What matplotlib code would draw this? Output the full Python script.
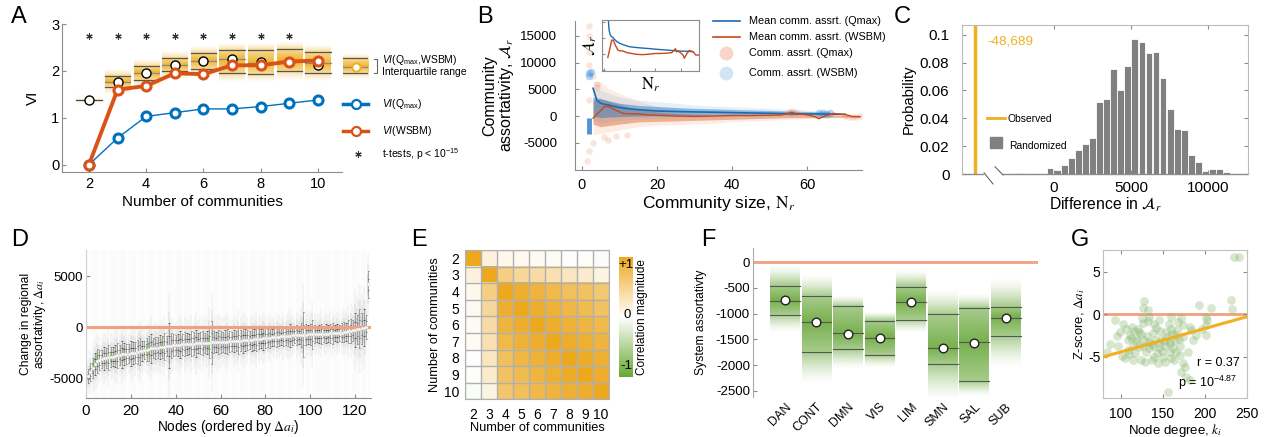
import numpy as np
import matplotlib
matplotlib.use('Agg')
import matplotlib.pyplot as plt
from matplotlib.colors import LinearSegmentedColormap, to_rgb
from matplotlib.lines import Line2D
from matplotlib.patches import Rectangle

plt.rcParams['font.family'] = ['Liberation Sans', 'DejaVu Sans']
plt.rcParams['mathtext.fontset'] = 'custom'
plt.rcParams['mathtext.rm'] = 'Liberation Sans'
plt.rcParams['mathtext.it'] = 'Liberation Sans:italic'
plt.rcParams['mathtext.bf'] = 'Liberation Sans:bold'
plt.rcParams['axes.unicode_minus'] = False
plt.rcParams['xtick.direction'] = 'in'
plt.rcParams['ytick.direction'] = 'in'
plt.rcParams['xtick.major.size'] = 3
plt.rcParams['ytick.major.size'] = 3
plt.rcParams['axes.edgecolor'] = '#8c8c8c'
plt.rcParams['xtick.color'] = '#8c8c8c'
plt.rcParams['ytick.color'] = '#8c8c8c'
plt.rcParams['xtick.labelcolor'] = 'black'
plt.rcParams['ytick.labelcolor'] = 'black'

BLUE = '#0072BD'
ORANGE = '#D95319'
GOLD = '#F0B020'
SALMON = '#F2A07E'
GREEN = '#5FA22E'

# ---------------- data ----------------
# A: variation of information vs number of communities
a_k = [2, 3, 4, 5, 6, 7, 8, 9, 10]
a_vi_qmax = [0.0, 0.57, 1.03, 1.11, 1.19, 1.19, 1.24, 1.31, 1.38]
a_vi_wsbm = [0.0, 1.60, 1.68, 1.95, 1.93, 2.12, 2.12, 2.20, 2.22]
a_vi_pair = [1.38, 1.77, 1.96, 2.12, 2.22, 2.25, 2.20, 2.20, 2.13]
a_q1 = [1.38, 1.66, 1.81, 1.99, 2.04, 1.95, 1.94, 1.99, 1.96]
a_med = [1.38, 1.77, 1.96, 2.12, 2.21, 2.25, 2.17, 2.22, 2.16]
a_q3 = [1.38, 1.89, 2.10, 2.27, 2.38, 2.45, 2.45, 2.47, 2.41]
a_star_k = [2, 3, 4, 5, 6, 7, 8, 9]

# B: community assortativity vs community size
b_mean_n_q = [3, 4, 5, 6, 7, 8, 10, 12, 15, 20, 25, 30, 35, 40, 45, 50, 55, 60, 65, 68, 70]
b_mean_q = [5200, 3000, 2400, 2200, 2100, 1900, 1600, 1400, 1200, 950, 850, 780, 720, 640,
            580, 520, 450, 390, 380, 340, 320]
b_mean_n_w = [3, 4, 5, 6, 7, 8, 9, 10, 11, 12, 15, 18, 20, 25, 30, 35, 40, 45, 50, 53, 55, 56,
              57, 58, 60, 62, 63, 64, 65, 66, 67, 68, 70, 72, 74]
b_mean_w = [-400, 300, 1000, 1750, 1800, 1500, 1100, 800, 500, 450, 400, 200, 150, 0, -50, 0,
            100, 100, 150, 200, 500, 700, 300, 400, 200, -100, -500, -200, 100, 300, 500, 400,
            300, -100, -100]
b_blue_n = [3, 5, 7, 10, 15, 20, 25, 30, 35, 40, 45, 50, 55, 60, 66]
b_blue_hi = [5500, 4900, 4300, 3600, 3000, 2700, 2400, 2100, 1900, 1750, 1600, 1450, 1300, 1100, 900]
b_blue_lo = [-800, -1400, -1100, -750, -550, -440, -350, -250, -180, -120, -60, 0, 80, 190, 300]
b_blue_hi2 = [3500, 3300, 2900, 2400, 2000, 1800, 1600, 1450, 1350, 1250, 1150, 1050, 950, 850, 750]
b_blue_lo2 = [0, -300, -200, -100, 0, 50, 100, 150, 200, 250, 280, 300, 330, 350, 400]
b_orng_n = [3, 5, 7, 10, 15, 20, 25, 30, 35, 40, 45, 50, 55, 60, 65, 70, 74]
b_orng_hi = [6500, 6400, 5200, 4250, 2800, 1750, 1300, 800, 650, 500, 350, 300, 900, 600, 600, 300, 100]
b_orng_lo = [-3500, -3250, -3000, -2600, -2000, -1700, -1600, -1500, -1300, -1060, -900, -750,
             -600, -500, -400, -300, -300]
b_orng_hi2 = [3000, 3200, 2800, 2200, 1200, 800, 500, 350, 250, 200, 150, 150, 700, 300, 300, 100, 0]
b_orng_lo2 = [-1500, -2000, -1800, -1500, -1100, -1000, -900, -800, -700, -600, -500, -400,
              -300, -300, -250, -200, -200]
b_orng_pts_n = [2, 2, 2, 2, 1.5, 2, 3, 4, 4, 6, 7, 9, 12, 2, 3, 55, 56, 57, 56, 71, 72, 73, 74, 70]
b_orng_pts_a = [16800, 15000, 12000, 9500, -8500, -6500, -5000, 6000, 5500, -4000, -4500, -3800,
                -3500, 3000, 7500, 800, 900, 700, 600, -100, -150, -100, -50, 0]
b_blue_pts_n = [2, 2, 2.4, 63, 64, 65, 66]
b_blue_pts_a = [8000, 7500, 8300, 500, 550, 450, 500]
b_strip_n = 2
b_strip_lo, b_strip_hi = -3400, -300

# C: null distribution of difference in assortativity
c_bins = [-2560, -2100, -260, 200, 660, 1120, 1580, 2040, 2500, 2960, 3420, 3880, 4340, 4800,
          5260, 5720, 6180, 6640, 7100, 7560, 8020, 8480, 8940, 9400, 9860, 10320, 10780, 11240]
c_prob = [0.001, 0.001, 0.004, 0.003, 0.0065, 0.0117, 0.0172, 0.0215, 0.0255, 0.0518, 0.0537,
          0.0757, 0.0606, 0.0773, 0.0967, 0.0945, 0.0871, 0.0876, 0.0692, 0.0468, 0.0325,
          0.0313, 0.0136, 0.0084, 0.002, 0.0035, 0.0035, 0.0014]
c_observed = -48689
c_observed_pos = -5150   # drawn left of the axis break

# D: change in regional assortativity per node
d_median = [-4800, -4400, -4000, -3600, -3300, -3200, -3100, -3050, -3000, -2950,
            -2900, -2870, -2800, -2750, -2700, -2650, -2620, -2600, -2580, -2560,
            -2540, -2480, -2400, -2350, -2300, -2250, -2180, -2100, -2060, -2040,
            -2020, -1990, -1950, -1920, -1900, -1860, -1820, -1790, -1760, -1740,
            -1720, -1700, -1680, -1660, -1640, -1620, -1600, -1590, -1570, -1560,
            -1550, -1540, -1520, -1500, -1490, -1470, -1460, -1450, -1440, -1430,
            -1420, -1410, -1400, -1390, -1380, -1360, -1340, -1320, -1300, -1280,
            -1260, -1240, -1220, -1200, -1180, -1160, -1130, -1100, -1080, -1060,
            -1040, -1020, -990, -960, -930, -910, -890, -870, -850, -830,
            -810, -790, -770, -760, -750, -740, -730, -710, -700, -690,
            -680, -670, -660, -650, -640, -630, -620, -610, -600, -590,
            -580, -560, -540, -510, -480, -440, -400, -350, -300, -250,
            -200, -150, -100, -50, 50, 4200]
d_whisk = [700, 900, 1000, 1100, 1200, 1000, 900, 1100, 1000, 1200,
           1000, 900, 1100, 1200, 1000, 1300, 1100, 1000, 900, 1200,
           1100, 1000, 1200, 1300, 1000, 900, 1100, 1200, 1400, 1000,
           1100, 1000, 1200, 1100, 1300, 1000, 2200, 1200, 1100, 1000,
           1100, 1300, 1000, 1200, 1100, 1000, 1200, 1100, 1300, 1000,
           1100, 1200, 1000, 1100, 1500, 2100, 1100, 1000, 1200, 1100,
           1000, 1100, 1200, 1000, 900, 1100, 1000, 1300, 1000, 1200,
           1100, 1000, 900, 1100, 1000, 1200, 1000, 900, 1100, 1000,
           900, 1000, 800, 900, 1000, 900, 800, 1000, 900, 1000,
           1100, 900, 800, 1000, 900, 1200, 2200, 1000, 900, 1000,
           1400, 900, 800, 900, 1000, 800, 900, 800, 900, 1000,
           800, 900, 800, 900, 1000, 900, 1100, 1200, 1000, 1700,
           1400, 1900, 1500, 1800, 1200, 1300]
d_green = [3, 4, 5, 11, 17, 27, 28, 34, 55, 79]

# E: correlation between partitions
e_k = [2, 3, 4, 5, 6, 7, 8, 9, 10]
e_corr = [
    [1.00, 0.15, 0.08, 0.06, 0.05, 0.04, 0.01, 0.02, -0.03],
    [0.15, 1.00, 0.55, 0.45, 0.40, 0.35, 0.28, 0.22, 0.12],
    [0.08, 0.55, 1.00, 0.92, 0.85, 0.80, 0.72, 0.70, 0.62],
    [0.06, 0.45, 0.92, 1.00, 0.93, 0.88, 0.82, 0.78, 0.70],
    [0.05, 0.40, 0.85, 0.93, 1.00, 0.93, 0.88, 0.84, 0.80],
    [0.04, 0.35, 0.80, 0.88, 0.93, 1.00, 0.94, 0.90, 0.85],
    [0.01, 0.28, 0.72, 0.82, 0.88, 0.94, 1.00, 0.95, 0.90],
    [0.02, 0.22, 0.70, 0.78, 0.84, 0.90, 0.95, 1.00, 0.93],
    [-0.03, 0.12, 0.65, 0.72, 0.80, 0.85, 0.90, 0.93, 1.00],
]

# F: system assortativity
f_names = ['DAN', 'CONT', 'DMN', 'VIS', 'LIM', 'SMN', 'SAL', 'SUB']
f_top = [-50, -214, -636, -960, -150, -506, -600, -310]
f_q3 = [-454, -662, -850, -1136, -474, -1012, -883, -870]
f_med = [-753, -1155, -1382, -1467, -766, -1661, -1551, -1077]
f_q1 = [-1019, -1752, -1694, -1811, -1116, -1986, -2310, -1441]
f_bot = [-1380, -2390, -2096, -2064, -1380, -2713, -2615, -2064]
f_mean = [-740, -1162, -1389, -1467, -766, -1661, -1565, -1090]

# G: z-score vs node degree
g_deg = [235, 241, 231, 193, 207, 233, 128, 126, 134, 93, 103, 113, 126, 140, 146, 160, 172,
         201, 203, 201, 174, 182, 99, 87, 83, 111, 119, 115, 109, 105, 115, 124, 130, 126, 134,
         138, 140, 146, 148, 154, 160, 164, 158, 158, 150, 160, 170, 174, 184, 180, 174, 172,
         178, 182, 156, 190, 197, 168, 122, 112, 118, 121, 124, 128, 131, 133, 136, 138, 141,
         143, 145, 147, 149, 151, 153, 155, 157, 159, 161, 162, 165, 167, 169, 171, 120, 117,
         108, 110, 97, 101, 95, 129, 137, 144, 152, 163, 166, 186, 176, 132, 125, 142, 116,
         106, 132, 201]
g_z = [6.7, 6.7, 1.65, 1.1, 0.75, 0.6, 1.5, 0.7, -0.3, -0.7, -1.1, -1.5, -1.0, -1.1, -0.7,
       -0.3, -0.4, -0.3, -0.7, -2.5, -1.3, -1.5, -2.1, -3.5, -4.4, -2.5, -2.9, -3.7, -4.2,
       -5.2, -5.4, -5.4, -4.4, -3.7, -3.3, -3.8, -5.0, -4.0, -2.9, -2.1, -1.7, -2.5, -3.3,
       -4.4, -5.0, -5.2, -3.7, -2.7, -1.9, -4.4, -5.8, -6.8, -7.4, -7.8, -9.1, -2.5, -1.7,
       -0.9, -2.1, -2.8, -3.2, -3.9, -2.3, -3.0, -2.6, -4.0, -3.5, -2.2, -3.0, -4.6, -3.4,
       -2.0, -4.3, -3.1, -3.7, -2.7, -1.2, -3.5, -2.3, -4.0, -3.0, -1.9, -2.9, -4.8, -1.8,
       -4.6, -3.0, -4.7, -3.8, -4.9, -2.6, -5.6, -5.4, -5.8, -5.6, -5.4, -4.4, -3.0, -6.2,
       -0.8, -0.4, -1.6, -2.0, -1.8, 0.45, -1.3]
g_fit_slope, g_fit_icpt = 0.02754, -7.196
g_r, g_logp = 0.37, -4.87

# ---------------- figure ----------------
W, H = 1270, 437
fig = plt.figure(figsize=(W / 100, H / 100), dpi=100)


def pax(l, t, r, b):
    return fig.add_axes([l / W, 1 - b / H, (r - l) / W, (b - t) / H])


def fx(x):
    return x / W


def fy(y):
    return 1 - y / H


def glow(ys, lo, md, hi, top, bot, a_edge, a_peak):
    al = np.zeros_like(ys)
    up = (ys > md) & (ys <= hi)
    dn = (ys <= md) & (ys >= lo)
    al[up] = a_edge + (a_peak - a_edge) * (1 - (ys[up] - md) / (hi - md))
    al[dn] = a_edge + (a_peak - a_edge) * (1 - (md - ys[dn]) / (md - lo))
    ab = ys > hi
    be = ys < lo
    al[ab] = a_edge * np.clip(1 - (ys[ab] - hi) / (top - hi), 0, 1) ** 1.5
    al[be] = a_edge * np.clip(1 - (lo - ys[be]) / (lo - bot), 0, 1) ** 1.5
    return al


def vimage(ax, x0, x1, y0, y1, alpha, color, z=1):
    rgba = np.zeros((len(alpha), 1, 4))
    rgba[..., :3] = to_rgb(color)
    rgba[:, 0, 3] = alpha
    im = ax.imshow(rgba, extent=(x0, x1, y0, y1), origin='lower', aspect='auto',
                   interpolation='bilinear', zorder=z)
    return im


def letter(x, y, s):
    fig.text(fx(x), fy(y), s, fontsize=17, va='top', ha='left')


# ---------------- A ----------------
axA = pax(62, 24, 342, 172)
for k, lo, md, hi in zip(a_k, a_q1, a_med, a_q3):
    if hi - lo < 0.01:
        ys = np.linspace(md - 0.12, md + 0.12, 100)
        vimage(axA, k - 0.45, k + 0.45, ys[0], ys[-1], 0.12 * (1 - np.abs(ys - md) / 0.12), GOLD)
        axA.plot([k - 0.45, k + 0.45], [md, md], color='#444444', lw=0.9, zorder=2)
        continue
    ys = np.linspace(lo - 0.2, hi + 0.16, 200)
    vimage(axA, k - 0.44, k + 0.44, ys[0], ys[-1],
           glow(ys, lo, md, hi, hi + 0.16, lo - 0.2, 0.45, 0.95), GOLD)
    for v, c in [(lo, '#555555'), (md, '#8a8a8a'), (hi, '#555555')]:
        axA.plot([k - 0.44, k + 0.44], [v, v], color=c, lw=0.9, zorder=2)
axA.plot(a_k, a_vi_pair, 'o', ms=6.5, mfc='white', mec='black', mew=1.0, zorder=3)
axA.plot(a_k, a_vi_qmax, '-o', color=BLUE, lw=1.0, ms=6.5, mfc='white', mec=BLUE, mew=2.2, zorder=4)
axA.plot(a_k, a_vi_wsbm, '-o', color=ORANGE, lw=2.8, ms=6.5, mfc='white', mec=ORANGE, mew=2.2, zorder=5)
axA.plot(a_star_k, [2.75] * len(a_star_k), marker=(6, 2, 0), color='#333333', ms=4.5, mew=0.8, ls='none')
axA.set_xlim(1.06, 10.84)
axA.set_ylim(-0.155, 3.0)
axA.set_xticks([2, 4, 6, 8, 10])
axA.set_yticks([0, 1, 2, 3])
axA.tick_params(labelsize=10.5)
axA.tick_params(axis='y', pad=2)
axA.set_xlabel('Number of communities', fontsize=11, labelpad=3)
axA.set_ylabel('VI', fontsize=11, labelpad=8)
for s in ['top', 'right']:
    axA.spines[s].set_visible(False)

# A legend
axL = pax(343, 53, 368, 80)
ys = np.linspace(0, 1, 100)
vimage(axL, 0, 1, 0, 1, glow(ys, 0.27, 0.5, 0.8, 1.0, 0.0, 0.45, 0.95), GOLD)
for v, c in [(0.27, '#555555'), (0.5, '#8a8a8a'), (0.8, '#555555')]:
    axL.plot([0, 1], [v, v], color=c, lw=0.9)
axL.plot([0.5], [0.5], 'o', ms=6, mfc='white', mec=GOLD, mew=1.5)
axL.set_xlim(0, 1)
axL.set_ylim(0, 1)
axL.axis('off')
fig.add_artist(Line2D([fx(374), fx(377), fx(377), fx(374)], [fy(58.7), fy(58.7), fy(73.3), fy(73.3)],
                      color='#666666', lw=0.8))
fig.text(fx(382), fy(60), r'$\it{VI}$(Q$_{\rm max}$,WSBM)', fontsize=7.5, va='center')
fig.text(fx(382), fy(72), 'Interquartile range', fontsize=7.5, va='center')
for yy, col, lab in [(104.3, BLUE, r'$\it{VI}$(Q$_{\rm max}$)'), (130.7, ORANGE, r'$\it{VI}$(WSBM)')]:
    fig.add_artist(Line2D([fx(343), fx(368)], [fy(yy), fy(yy)], color=col, lw=2.5))
    fig.add_artist(Line2D([fx(356)], [fy(yy)], marker='o', ms=6.5, mfc='white', mec=col, mew=1.6))
    fig.text(fx(382), fy(yy), lab, fontsize=7.5, va='center')
fig.add_artist(Line2D([fx(358)], [fy(154)], marker=(6, 2, 0), ms=4.5, mew=0.8, color='#333333'))
fig.text(fx(382), fy(154), r't-tests, p < 10$^{-15}$', fontsize=7.5, va='center')

# ---------------- B ----------------
axB = pax(575, 21, 862, 170)
axB.fill_between(b_orng_n, b_orng_lo, b_orng_hi, color='#F08A5D', alpha=0.16, lw=0)
axB.fill_between(b_orng_n, b_orng_lo2, b_orng_hi2, color=ORANGE, alpha=0.4, lw=0)
axB.fill_between(b_blue_n, b_blue_lo, b_blue_hi, color='#5C9FD6', alpha=0.15, lw=0)
axB.fill_between(b_blue_n, b_blue_lo2, b_blue_hi2, color='#1F77C0', alpha=0.45, lw=0)
axB.scatter(b_orng_pts_n, b_orng_pts_a, s=22, color=ORANGE, alpha=0.15, lw=0)
axB.scatter(b_blue_pts_n, b_blue_pts_a, s=30, color='#2E86DE', alpha=0.35, lw=0)
axB.vlines(b_strip_n, b_strip_lo, b_strip_hi, color='#2878C8', lw=3.5, alpha=0.8)
axB.plot(b_mean_n_q, b_mean_q, color='#1C6BB0', lw=1.2)
axB.plot(b_mean_n_w, b_mean_w, color='#C8481A', lw=1.0)
axB.set_xlim(-1.8, 74.5)
axB.set_ylim(-10100, 17800)
axB.set_xticks([0, 20, 40, 60])
axB.set_yticks([-5000, 0, 5000, 10000, 15000])
axB.tick_params(axis='x', labelsize=10.5, pad=6)
axB.tick_params(axis='y', labelsize=9.5, pad=13)
axB.set_xlabel(r'Community size, $\mathrm{N}_r$', fontsize=12.5, labelpad=1, math_fontfamily='stix')
axB.set_ylabel('Community\nassortativity, ' + r'$\mathcal{A}_r$', fontsize=11.5, labelpad=3,
               math_fontfamily='stix', linespacing=1.0)
for s in ['top', 'right']:
    axB.spines[s].set_visible(False)

axI = pax(601.7, 20, 699, 71)
axI.plot(b_mean_n_q, b_mean_q, color='#1C6BB0', lw=1.0)
axI.plot(b_mean_n_w, b_mean_w, color='#C8481A', lw=1.0)
axI.set_xlim(-1.8, 74.5)
axI.set_ylim(-2100, 4300)
axI.set_xticks([0, 20, 40, 60])
axI.set_yticks([-2000, 0, 2000, 4000])
axI.tick_params(labelleft=False, labelbottom=False, length=2)
axI.set_xlabel(r'$\mathrm{N}_r$', fontsize=12, labelpad=3, math_fontfamily='stix')
axI.set_ylabel(r'$\mathcal{A}_r$', fontsize=12, labelpad=2, math_fontfamily='stix')

for yy, col, lab in [(21, '#1C6BB0', 'Mean comm. assrt. (Qmax)'),
                     (36.7, '#C8481A', 'Mean comm. assrt. (WSBM)')]:
    fig.add_artist(Line2D([fx(713), fx(740)], [fy(yy), fy(yy)], color=col, lw=1.2))
    fig.text(fx(749), fy(yy), lab, fontsize=7.8, va='center')
for yy, col, lab in [(52.7, '#F4B9A2', 'Comm. assrt. (Qmax)'),
                     (73, '#B7D3EE', 'Comm. assrt. (WSBM)')]:
    fig.add_artist(Line2D([fx(726)], [fy(yy)], marker='o', ms=10, mfc=col, mec='none', alpha=0.6))
    fig.text(fx(749), fy(yy), lab, fontsize=7.8, va='center')

# ---------------- C ----------------
axC = pax(962, 25, 1248, 174)
axC.bar(c_bins, c_prob, width=440, color='#808080', edgecolor='white', lw=0.6)
axC.axvline(c_observed_pos, color=GOLD, lw=2.5)
axC.set_xlim(-6000, 12630)
axC.set_ylim(0, 0.107)
axC.set_xticks([0, 5000, 10000])
axC.set_yticks([0, 0.02, 0.04, 0.06, 0.08, 0.1])
axC.set_yticklabels(['0', '0.02', '0.04', '0.06', '0.08', '0.1'])
axC.tick_params(labelsize=11, top=True, right=True)
axC.tick_params(axis='y', pad=9)
axC.tick_params(axis='x', pad=5)
for s in ['top', 'right', 'left']:
    axC.spines[s].set_color('#bbbbbb')
axC.spines['bottom'].set_visible(False)
axC.plot([-6000, -4600], [0, 0], color='#8c8c8c', lw=1, clip_on=False)
axC.plot([-3300, 12630], [0, 0], color='#8c8c8c', lw=1, clip_on=False)
fig.add_artist(Line2D([fx(984), fx(993)], [fy(172.7), fy(184)], color='#555555', lw=0.7))
fig.add_artist(Line2D([fx(995), fx(1003)], [fy(166.7), fy(175)], color='#555555', lw=0.7))
axC.set_xlabel(r'Difference in $\mathcal{A}_r$', fontsize=11.3, labelpad=1, math_fontfamily='stix')
axC.set_ylabel('Probability', fontsize=10.6, labelpad=3)
fig.text(fx(987), fy(41), f'{c_observed:,}', color=GOLD, fontsize=9.7, va='center')
fig.add_artist(Line2D([fx(987), fx(1005)], [fy(118), fy(118)], color=GOLD, lw=2))
fig.text(fx(1008), fy(118.5), 'Observed', fontsize=7.4, va='center')
fig.add_artist(Rectangle((fx(990), fy(148)), fx(12), 11 / H, color='#808080'))
fig.text(fx(1009), fy(145.7), 'Randomized', fontsize=7.4, va='center')

# ---------------- D ----------------
axD = pax(86, 250, 370.7, 398.3)
nodes = np.arange(1, len(d_median) + 1)
med = np.array(d_median, dtype=float)
wh = np.array(d_whisk, dtype=float)
axD.bar(nodes, 14600, bottom=-7000, width=0.8, color='#9a9a9a', alpha=0.035, lw=0)
for f, a in [(2.3, 0.06), (1.5, 0.10), (0.8, 0.18)]:
    axD.bar(nodes, 2 * f * wh, bottom=med - f * wh, width=0.9, color='#808080', alpha=a, lw=0)
gi = np.array(d_green) - 1
axD.bar(nodes[gi], wh[gi], bottom=med[gi] - 0.5 * wh[gi], width=0.8, color='#8BD05A', alpha=0.8, lw=0)
axD.vlines(nodes, med - wh, med + wh, color='#8a8a8a', lw=0.5)
for f in [1.0, -1.0, 0.45, -0.45]:
    axD.hlines(med + f * wh, nodes - 0.3, nodes + 0.3, color='#333333', lw=0.5)
axD.axhline(0, color=SALMON, lw=2.2, zorder=2)
axD.plot(nodes, med, 'o', ms=2.2, mfc='white', mec='#c8c8c8', mew=0.3, ls='none', zorder=3)
axD.set_xlim(0, 127)
axD.set_ylim(-6960, 7580)
axD.set_xticks([0, 20, 40, 60, 80, 100, 120])
axD.set_yticks([-5000, 0, 5000])
axD.tick_params(axis='x', labelsize=11, pad=4)
axD.tick_params(axis='y', labelsize=9.5, pad=2)
axD.set_xlabel(r'Nodes (ordered by $\Delta a_i$)', fontsize=9.8, labelpad=0, math_fontfamily='stix')
axD.set_ylabel('Change in regional\nassortativity, ' + r'$\Delta a_i$', fontsize=8.7, labelpad=1,
               math_fontfamily='stix', linespacing=1.0)
for s in ['top', 'right']:
    axD.spines[s].set_visible(False)
axD.spines['left'].set_color('#d0d0d0')

# ---------------- E ----------------
axE = pax(465, 250, 609, 399.3)
cmapE = LinearSegmentedColormap.from_list('gw', ['#69A832', '#FFFFFF', '#EDA81E'])
imE = axE.imshow(np.array(e_corr), cmap=cmapE, vmin=-1, vmax=1,
                 extent=(1.5, 10.5, 10.5, 1.5), aspect='auto', interpolation='nearest')
for v in np.arange(1.5, 11, 1):
    axE.axhline(v, color='#b0b0b0', lw=1)
    axE.axvline(v, color='#b0b0b0', lw=1)
axE.set_xticks(e_k)
axE.set_yticks(e_k)
axE.tick_params(length=0, labelsize=10)
axE.tick_params(axis='x', pad=6)
axE.tick_params(axis='y', pad=4)
for s in axE.spines.values():
    s.set_color('#b0b0b0')
axE.set_xlabel('Number of communities', fontsize=9.2, labelpad=0)
axE.set_ylabel('Number of communities', fontsize=9.2, labelpad=2)
caxE = pax(619, 257.3, 633.3, 376.7)
cb = fig.colorbar(imE, cax=caxE)
cb.set_ticks([])
cb.outline.set_visible(False)
fig.text(fx(626), fy(265), '+1', fontsize=9.5, ha='center', va='center')
fig.text(fx(626.7), fy(315), '0', fontsize=9.5, ha='center', va='center')
fig.text(fx(626), fy(366), '-1', fontsize=9.5, ha='center', va='center')
fig.text(fx(642), fy(317), 'Correlation magnitude', fontsize=8.5, rotation=90, ha='center', va='center')

# ---------------- F ----------------
axF = pax(752.7, 248, 1038, 396.7)
pos = np.arange(1, len(f_names) + 1)
for p, t, q3, md, q1, b in zip(pos, f_top, f_q3, f_med, f_q1, f_bot):
    ys = np.linspace(b, t, 300)
    vimage(axF, p - 0.47, p + 0.47, b, t, glow(ys, q1, md, q3, t, b, 0.55, 0.85), GREEN)
    for v in [q3, md, q1]:
        axF.plot([p - 0.47, p + 0.47], [v, v], color='#555555', lw=0.8, zorder=2)
axF.plot(pos, f_mean, 'o', ms=6.2, mfc='white', mec='#222222', mew=1.0, zorder=3, ls='none')
axF.axhline(0, color=SALMON, lw=2, zorder=2)
axF.set_xlim(-0.02, 9.02)
axF.set_ylim(-2617, 278)
axF.set_yticks([-2500, -2000, -1500, -1000, -500, 0])
axF.set_xticks(pos)
axF.set_xticklabels(f_names, rotation=45, ha='right', rotation_mode='anchor')
axF.tick_params(axis='x', length=0, labelsize=9, pad=3)
axF.tick_params(axis='y', labelsize=9.5, pad=2)
axF.set_ylabel('System assortativty', fontsize=8.7, labelpad=6)
for s in ['top', 'right', 'bottom']:
    axF.spines[s].set_visible(False)
axF.spines['left'].set_color('#aaaaaa')

# ---------------- G ----------------
axG = pax(1103.3, 250, 1246.7, 398.3)
axG.axhline(0, color=SALMON, lw=2, zorder=1)
axG.scatter(g_deg, g_z, s=40, color='#8DB873', alpha=0.35, lw=0, zorder=2)
gx = np.array([79, 250])
axG.plot(gx, g_fit_slope * gx + g_fit_icpt, color=GOLD, lw=2.2, zorder=3)
axG.set_xlim(79, 250)
axG.set_ylim(-9.9, 7.55)
axG.set_xticks([100, 150, 200, 250])
axG.set_yticks([-5, 0, 5])
axG.tick_params(labelsize=10, top=True, right=True)
axG.tick_params(axis='x', pad=6)
axG.tick_params(axis='y', pad=2)
for s in axG.spines.values():
    s.set_color('#c0c0c0')
axG.set_xlabel(r'Node degree, $k_i$', fontsize=9.5, labelpad=1, math_fontfamily='stix')
axG.set_ylabel(r'Z-score, $\Delta a_i$', fontsize=9.4, labelpad=1, math_fontfamily='stix')
fig.text(fx(1196.7), fy(363.3), f'r = {g_r}', fontsize=9, va='center')
fig.text(fx(1178), fy(383.3), f'p = 10$^{{{g_logp}}}$', fontsize=9, va='center')

# panel letters
letter(11, 6, 'A')
letter(477, 6, 'B')
letter(894, 6, 'C')
letter(11, 229, 'D')
letter(411, 229, 'E')
letter(701, 229, 'F')
letter(1071, 229, 'G')

fig.savefig('out.png', dpi=100)
